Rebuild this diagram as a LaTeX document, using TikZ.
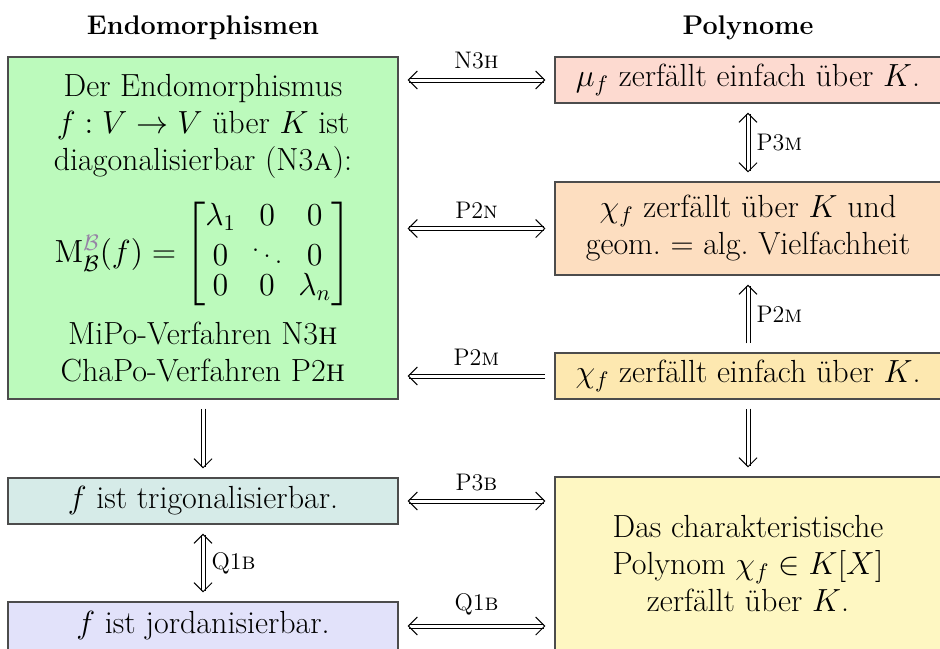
\documentclass[tikz,border=0pt]{standalone}
\usepackage{fix-cm}
\usepackage{amsmath}
\usepackage{graphicx}
\usetikzlibrary{arrows.meta}
\renewcommand{\arraystretch}{0.78}
\setlength{\arraycolsep}{3.5pt}
\definecolor{cgreen}{RGB}{188,250,188}
\definecolor{cmu}{RGB}{253,218,208}
\definecolor{cgeo}{RGB}{253,222,192}
\definecolor{cein}{RGB}{253,232,176}
\definecolor{cpoly}{RGB}{254,247,194}
\definecolor{ctrig}{RGB}{214,235,232}
\definecolor{cjord}{RGB}{226,226,250}
\definecolor{bpurple}{RGB}{150,130,165}
\begin{document}
\begin{tikzpicture}[x=0.5pt,y=-0.5pt, >={Straight Barb[length=4.5pt, width=9pt, line width=0.5pt]},
  box/.style={draw=black!70, line width=0.6pt, align=center, inner sep=2pt,
     font=\fontsize{16}{18.5}\selectfont},
  lbox/.style={box, minimum width=195pt},
  rbox/.style={box, minimum width=193pt},
  hdr/.style={font=\fontsize{13.5}{16}\selectfont\bfseries},
  dbl/.style={double=white, double distance=1.5pt, line width=0.5pt, shorten <=4.5pt, shorten >=4.5pt},
  lbl/.style={font=\fontsize{12}{14}\selectfont, inner sep=1pt}]
\useasboundingbox (0,0) rectangle (940,648);
\node[hdr] (h1) at (203,28) {Endomorphismen};
\node[hdr] (h2) at (748,28) {Polynome};
\node[lbox, fill=cgreen, minimum height=171pt] (dia) at (203,228) {Der Endomorphismus\\
$f:V\to V$ über $K$ ist\\
diagonalisierbar (N3\textsc{a}):\\[11pt]
{$\mathrm{M}^{\textcolor{bpurple}{\mathcal{B}}}_{\mathcal{B}}(f)=\begin{bmatrix}\lambda_1&0&0\\0&\ddots&0\\0&0&\lambda_n\end{bmatrix}$}\\[7pt]
MiPo-Verfahren N3\textsc{h}\\
ChaPo-Verfahren P2\textsc{h}};
\node[rbox, fill=cmu, minimum height=23pt] (mu) at (748,80) {$\mu_f$ zerfällt einfach über $K$.};
\node[rbox, fill=cgeo, minimum height=46.5pt] (geo) at (748,228.5) {$\chi_f$ zerfällt über $K$ und\\geom.\ = alg.\ Vielfachheit};
\node[rbox, fill=cein, minimum height=23pt] (ein) at (748,376) {$\chi_f$ zerfällt einfach über $K$.};
\node[rbox, fill=cpoly, minimum height=86.5pt] (poly) at (748,563.5) {Das charakteristische\\Polynom $\chi_f\in K[X]$\\zerfällt über $K$.};
\node[lbox, fill=ctrig, minimum height=23pt] (tri) at (203,501) {$f$ ist trigonalisierbar.};
\node[lbox, fill=cjord, minimum height=24pt] (jor) at (203,626) {$f$ ist jordanisierbar.};
% horizontal arrows
\draw[dbl, <->] (mu.west -| dia.east) -- (mu.west) node[lbl, midway, above=4pt] (l1) {N3\textsc{h}};
\draw[dbl, <->] (geo.west -| dia.east) -- (geo.west) node[lbl, midway, above=4pt] (l2) {P2\textsc{n}};
\draw[dbl, ->] (ein.west) -- (ein.west -| dia.east) node[lbl, midway, above=4pt] (l3) {P2\textsc{m}};
\draw[dbl, <->] (tri.east) -- (tri.east -| poly.west) node[lbl, midway, above=4pt] (l4) {P3\textsc{b}};
\draw[dbl, <->] (jor.east) -- (jor.east -| poly.west) node[lbl, midway, above=4pt] (l5) {Q1\textsc{b}};
% vertical arrows
\draw[dbl, <->] (mu.south) -- (geo.north) node[lbl, midway, right=3pt] (l6) {P3\textsc{m}};
\draw[dbl, ->] (ein.north) -- (geo.south) node[lbl, midway, right=3pt] (l7) {P2\textsc{m}};
\draw[dbl, ->] (ein.south) -- (poly.north);
\draw[dbl, ->] (dia.south) -- (tri.north);
\draw[dbl, <->] (tri.south) -- (jor.north) node[lbl, midway, right=3pt] (l8) {Q1\textsc{b}};
\end{tikzpicture}
\end{document}
